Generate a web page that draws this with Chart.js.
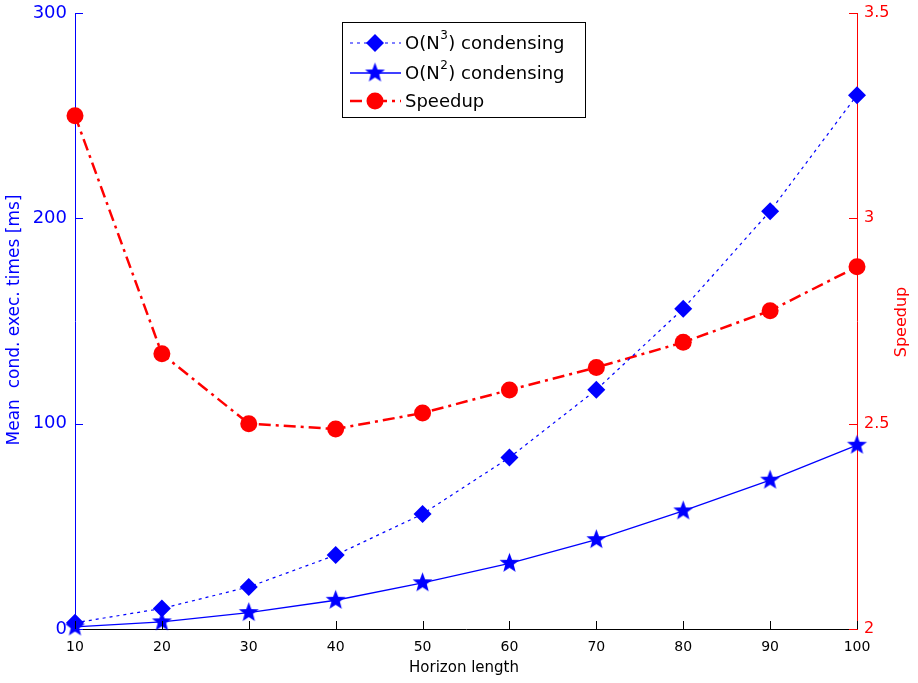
<!DOCTYPE html>
<html>
<head>
<meta charset="utf-8">
<script src="https://cdn.jsdelivr.net/npm/chart.js@4.4.1/dist/chart.umd.min.js"></script>
<style>
  html, body { margin: 0; padding: 0; background: #fff; }
  #wrap { width: 918px; height: 683px; }
</style>
</head>
<body>
<div id="wrap"><canvas id="c" width="918" height="683"></canvas></div>
<script>
const horizon = [10, 20, 30, 40, 50, 60, 70, 80, 90, 100];
const cubicTimes = [3, 10, 20.5, 36, 56, 83.5, 116.5, 156, 203.5, 260];
const quadTimes = [1, 3.5, 8, 14, 22.5, 32, 43.5, 57.5, 72.5, 89.5];
const speedup = [3.25, 2.67, 2.5, 2.487, 2.526, 2.582, 2.637, 2.698, 2.775, 2.882];
const xTicks = [10, 20, 30, 40, 50, 60, 70, 80, 90, 100];
const leftTicks = [0, 100, 200, 300];
const rightTicks = [2, 2.5, 3, 3.5];

const BLUE = "#0000ff";
const RED = "#ff0000";
const FONT = "'DejaVu Sans', sans-serif";

// filled 5-point star, used as point style
function makeStar(r) {
  const c = document.createElement("canvas");
  const s = Math.ceil(r * 2 + 2);
  c.width = s;
  c.height = s;
  const g = c.getContext("2d");
  g.fillStyle = BLUE;
  g.beginPath();
  for (let i = 0; i < 10; i++) {
    const rr = i % 2 === 0 ? r : r * 0.42;
    const a = -Math.PI / 2 + (i * Math.PI) / 5;
    const px = s / 2 + rr * Math.cos(a);
    const py = s / 2 + rr * Math.sin(a);
    if (i === 0) g.moveTo(px, py);
    else g.lineTo(px, py);
  }
  g.closePath();
  g.fill();
  return c;
}
const star = makeStar(10.5);

const pts = (ys) => horizon.map((x, i) => ({ x, y: ys[i] }));

// MATLAB style ticks pointing into the plot
const innerTicks = {
  id: "innerTicks",
  afterDatasetsDraw(chart) {
    const { ctx, chartArea: a, scales } = chart;
    ctx.save();
    ctx.lineWidth = 1;
    ctx.strokeStyle = "#000";
    scales.x.ticks.forEach((t) => {
      const px = Math.round(scales.x.getPixelForValue(t.value)) + 0.5;
      ctx.beginPath();
      ctx.moveTo(px, a.bottom);
      ctx.lineTo(px, a.bottom - 8);
      ctx.stroke();
    });
    ctx.strokeStyle = BLUE;
    scales.y.ticks.forEach((t) => {
      const py = Math.round(scales.y.getPixelForValue(t.value)) + 0.5;
      ctx.beginPath();
      ctx.moveTo(a.left, py);
      ctx.lineTo(a.left + 8, py);
      ctx.stroke();
    });
    ctx.strokeStyle = RED;
    scales.y1.ticks.forEach((t) => {
      const py = Math.round(scales.y1.getPixelForValue(t.value)) + 0.5;
      ctx.beginPath();
      ctx.moveTo(a.right, py);
      ctx.lineTo(a.right - 8, py);
      ctx.stroke();
    });
    ctx.restore();
  },
};

const titles = {
  id: "titles",
  afterDraw(chart) {
    const { ctx } = chart;
    ctx.save();
    ctx.textAlign = "center";
    ctx.textBaseline = "middle";
    ctx.fillStyle = "#000";
    ctx.font = "15px " + FONT;
    ctx.fillText("Horizon length", 464, 668);

    ctx.save();
    ctx.translate(15, 320);
    ctx.rotate(-Math.PI / 2);
    ctx.fillStyle = BLUE;
    ctx.font = "17px " + FONT;
    ctx.fillText("Mean  cond. exec. times [ms]", 0, 0);
    ctx.restore();

    ctx.save();
    ctx.translate(902, 322);
    ctx.rotate(-Math.PI / 2);
    ctx.fillStyle = RED;
    ctx.font = "16px " + FONT;
    ctx.fillText("Speedup", 0, 0);
    ctx.restore();
    ctx.restore();
  },
};

// boxed legend with line + marker samples
const boxLegend = {
  id: "boxLegend",
  afterDraw(chart) {
    const { ctx } = chart;
    const bx = 342.5, by = 22.5, bw = 243, bh = 95;
    ctx.save();
    ctx.fillStyle = "#fff";
    ctx.fillRect(bx, by, bw, bh);
    ctx.strokeStyle = "#000";
    ctx.lineWidth = 1;
    ctx.strokeRect(bx, by, bw, bh);

    const rows = [43, 73, 101];
    chart.data.datasets.forEach((ds, i) => {
      const y = rows[i];
      ctx.save();
      ctx.strokeStyle = ds.borderColor;
      ctx.lineWidth = ds.borderWidth;
      ctx.setLineDash(ds.borderDash || []);
      ctx.beginPath();
      ctx.moveTo(350, y);
      ctx.lineTo(401, y);
      ctx.stroke();
      ctx.restore();
      ctx.fillStyle = ds.backgroundColor;
      ctx.strokeStyle = ds.backgroundColor;
      Chart.helpers.drawPoint(ctx, {
        pointStyle: ds.pointStyle,
        radius: ds.pointRadius,
        rotation: 0,
        borderWidth: 0,
      }, 375, y);
    });

    ctx.fillStyle = "#000";
    ctx.textBaseline = "middle";
    ctx.textAlign = "left";
    const sup = (base, power, tail, y) => {
      let x = 405;
      ctx.font = "18px " + FONT;
      ctx.fillText(base, x, y);
      x += ctx.measureText(base).width;
      ctx.font = "12px " + FONT;
      ctx.fillText(power, x + 0.5, y - 8);
      x += ctx.measureText(power).width + 1;
      ctx.font = "18px " + FONT;
      ctx.fillText(tail, x, y);
    };
    sup("O(N", "3", ") condensing", rows[0] + 1);
    sup("O(N", "2", ") condensing", rows[1] + 1);
    ctx.font = "18px " + FONT;
    ctx.fillText("Speedup", 405, rows[2] + 1);
    ctx.restore();
  },
};

const noVPad = (w) => (s) => {
  s.width = w;
  s.paddingTop = 0;
  s.paddingBottom = 0;
};

new Chart(document.getElementById("c"), {
  type: "line",
  data: {
    datasets: [
      {
        label: "O(N^3) condensing",
        data: pts(cubicTimes),
        yAxisID: "y",
        borderColor: BLUE,
        backgroundColor: BLUE,
        borderWidth: 1.2,
        borderDash: [3, 4],
        pointStyle: "rectRot",
        pointRadius: 9,
        pointBorderWidth: 0,
        tension: 0,
        clip: false,
      },
      {
        label: "O(N^2) condensing",
        data: pts(quadTimes),
        yAxisID: "y",
        borderColor: BLUE,
        backgroundColor: BLUE,
        borderWidth: 1.3,
        pointStyle: star,
        pointRadius: 10,
        tension: 0,
        clip: false,
      },
      {
        label: "Speedup",
        data: pts(speedup),
        yAxisID: "y1",
        borderColor: RED,
        backgroundColor: RED,
        borderWidth: 2.5,
        borderDash: [12, 5, 3, 5],
        pointStyle: "circle",
        pointRadius: 8.5,
        pointBorderWidth: 0,
        tension: 0,
        clip: false,
      },
    ],
  },
  options: {
    responsive: false,
    animation: false,
    devicePixelRatio: 1,
    layout: { padding: { top: 13, left: 0, right: 0, bottom: 0 } },
    plugins: { legend: { display: false }, tooltip: { enabled: false } },
    scales: {
      x: {
        type: "linear",
        min: 10,
        max: 100,
        afterBuildTicks: (s) => { s.ticks = xTicks.map((v) => ({ value: v })); },
        afterFit: (s) => { s.height = 54; },
        grid: { display: true, drawOnChartArea: false, drawTicks: false, color: "rgba(0,0,0,0)" },
        border: { color: "#000", width: 1 },
        ticks: { color: "#000", font: { family: FONT, size: 14 }, padding: 10, maxRotation: 0 },
      },
      y: {
        position: "left",
        min: 0,
        max: 300,
        afterBuildTicks: (s) => { s.ticks = leftTicks.map((v) => ({ value: v })); },
        afterFit: noVPad(75),
        grid: { display: true, drawOnChartArea: false, drawTicks: false, color: "rgba(0,0,0,0)" },
        border: { color: BLUE, width: 1 },
        ticks: { color: BLUE, font: { family: FONT, size: 18 }, padding: 8 },
      },
      y1: {
        position: "right",
        min: 2,
        max: 3.5,
        afterBuildTicks: (s) => { s.ticks = rightTicks.map((v) => ({ value: v })); },
        afterFit: noVPad(61),
        grid: { display: true, drawOnChartArea: false, drawTicks: false, color: "rgba(0,0,0,0)" },
        border: { color: RED, width: 1 },
        ticks: { color: RED, font: { family: FONT, size: 16 }, padding: 7, callback: (v) => String(v) },
      },
    },
  },
  plugins: [innerTicks, titles, boxLegend],
});
</script>
</body>
</html>
